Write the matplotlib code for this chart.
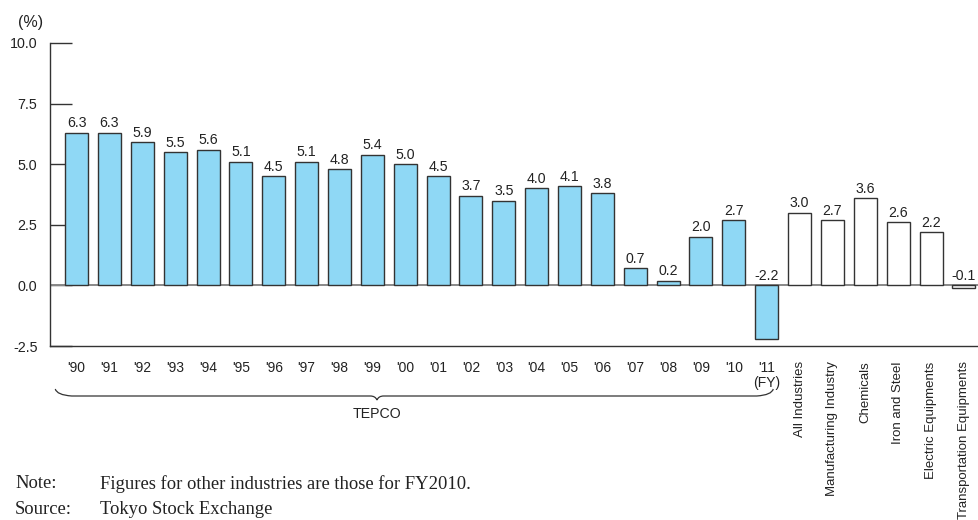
import matplotlib
matplotlib.use("Agg")
import matplotlib.pyplot as plt
from matplotlib.path import Path
from matplotlib.patches import PathPatch
import matplotlib.transforms as mtransforms

plt.rcParams['font.family'] = ['Liberation Sans', 'DejaVu Sans']

tepco_labels = ["'90", "'91", "'92", "'93", "'94", "'95", "'96", "'97", "'98", "'99",
                "'00", "'01", "'02", "'03", "'04", "'05", "'06", "'07", "'08", "'09",
                "'10", "'11\n(FY)"]
tepco_values = [6.3, 6.3, 5.9, 5.5, 5.6, 5.1, 4.5, 5.1, 4.8, 5.4,
                5.0, 4.5, 3.7, 3.5, 4.0, 4.1, 3.8, 0.7, 0.2, 2.0,
                2.7, -2.2]
industry_labels = ["All Industries", "Manufacturing Industry", "Chemicals",
                   "Iron and Steel", "Electric Equipments", "Transportation Equipments"]
industry_values = [3.0, 2.7, 3.6, 2.6, 2.2, -0.1]
y_ticks = [-2.5, 0.0, 2.5, 5.0, 7.5, 10.0]
group_label = "TEPCO"

W, H = 979, 520
fig = plt.figure(figsize=(W / 100, H / 100), dpi=100)
ax = fig.add_axes([50 / W, 1 - 346 / H, 1 - 50 / W, (346 - 43) / H])

n_t = len(tepco_values)
xs_t = list(range(n_t))
xs_i = list(range(n_t, n_t + len(industry_values)))

bw = 0.70
ax.bar(xs_t, tepco_values, width=bw, color='#8fd8f5', edgecolor='#333333', linewidth=1.0, zorder=2)
ax.bar(xs_i, industry_values, width=bw, color='white', edgecolor='#333333', linewidth=1.0, zorder=2)

for x, v in zip(xs_t + xs_i, tepco_values + industry_values):
    ax.text(x, max(v, 0) + 0.1, f"{v:.1f}", ha='center', va='bottom', fontsize=10.2, color='#222222')

ax.axhline(0, color='#888888', linewidth=1.4, zorder=1.8)

ax.set_xlim(-0.81, 27.46)
ax.set_ylim(-2.5, 10.0)
ax.set_yticks(y_ticks)
ax.set_yticklabels([f"{t:.1f}" for t in y_ticks], fontsize=10.3, color='#222222')
ax.tick_params(axis='y', direction='in', length=16, width=1.0, color='#333333', pad=9)
ax.set_axisbelow(True)
ax.spines['top'].set_visible(False)
ax.spines['right'].set_visible(False)
ax.spines['left'].set_color('#333333')
ax.spines['bottom'].set_color('#333333')
ax.spines['left'].set_linewidth(1.0)
ax.spines['bottom'].set_linewidth(1.0)

ax.set_xticks(xs_t + xs_i)
ax.set_xticklabels(tepco_labels + industry_labels, fontsize=10, color='#222222')
ax.tick_params(axis='x', length=0, pad=11)
for lbl in ax.get_xticklabels()[n_t:]:
    lbl.set_rotation(90)
    lbl.set_va('top')
    lbl.set_ha('center')
    lbl.set_fontsize(9.5)
for lbl in ax.get_xticklabels()[:n_t]:
    lbl.set_linespacing(1.1)

# brace
tr = mtransforms.blended_transform_factory(ax.transData, fig.transFigure)
def fy(py):
    return 1 - py / H
x0, x1, xm = -0.65, 21.2, 9.14
yl = fy(396)
verts = [(x0, fy(389)), (x0 + 0.05, fy(395)), (x0 + 0.5, yl), (xm - 0.2, yl),
         (xm - 0.05, yl), (xm, fy(400)),
         (xm + 0.05, yl), (xm + 0.2, yl), (x1 - 0.5, yl),
         (x1 - 0.05, fy(395)), (x1, fy(389))]
codes = [Path.MOVETO, Path.CURVE3, Path.CURVE3, Path.LINETO,
         Path.CURVE3, Path.CURVE3,
         Path.CURVE3, Path.CURVE3, Path.LINETO,
         Path.CURVE3, Path.CURVE3]
brace = PathPatch(Path(verts, codes), transform=tr, facecolor='none', edgecolor='#333333',
                  linewidth=0.9, clip_on=False)
fig.add_artist(brace)
t = fig.text(0, fy(414), group_label, transform=tr, ha='center', va='center', fontsize=10.2,
             color='#222222')
t.set_x(xm)

fig.text(18 / W, fy(22), "(%)", fontsize=11.5, ha='left', va='center', color='#222222')

serif = ['Liberation Serif', 'DejaVu Serif']
fs = 13.4
fig.text(15 / W, fy(484), "Note:", family=serif, fontsize=fs, ha='left', va='center', color='#222222')
fig.text(100 / W, fy(484), "Figures for other industries are those for FY2010.", family=serif,
         fontsize=fs, ha='left', va='center', color='#222222')
fig.text(15 / W, fy(510), "Source:", family=serif, fontsize=fs, ha='left', va='center', color='#222222')
fig.text(100 / W, fy(510), "Tokyo Stock Exchange", family=serif, fontsize=fs, ha='left',
         va='center', color='#222222')

fig.savefig("out.png", dpi=100)
